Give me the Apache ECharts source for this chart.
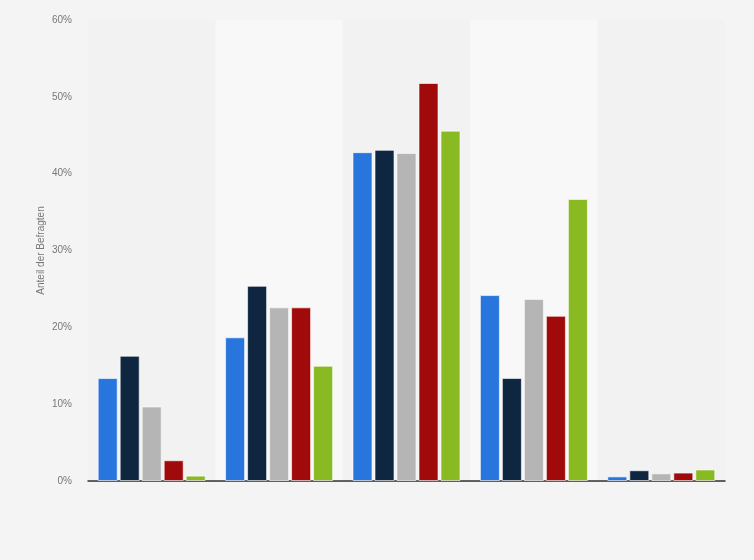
<!DOCTYPE html>
<html>
<head>
<meta charset="utf-8">
<script src="https://cdn.jsdelivr.net/npm/echarts@6/dist/echarts.min.js"></script>
<style>
  html, body { margin: 0; padding: 0; background: #f4f4f4; }
  #chart { width: 754px; height: 560px; }
</style>
</head>
<body>
<div id="chart"></div>
<script>
// categories have no visible labels in the source chart
const categories = ["", " ", "  ", "   ", "    "]
const yTicks = [0, 10, 20, 30, 40, 50, 60]

const seriesA = [13.4, 18.7, 42.8, 24.2, 0.6]
const seriesB = [16.3, 25.4, 43.1, 13.4, 1.4]
const seriesC = [9.7, 22.6, 42.7, 23.7, 1.0]
const seriesD = [2.7, 22.6, 51.8, 21.5, 1.1]
const seriesE = [0.7, 15.0, 45.6, 36.7, 1.5]

const colors = ["#2876dd", "#0f2641", "#b5b5b5", "#a10a0a", "#8aba22"]

const makeSeries = (name, data, color) => ({
  name: name,
  type: "bar",
  data: data,
  barWidth: 20,
  barGap: "10%",
  itemStyle: {
    color: color,
    borderColor: "rgba(255,255,255,0.6)",
    borderWidth: 1,
  },
})

const option = {
  backgroundColor: "#f4f4f4",
  animation: false,
  grid: {
    left: 88,
    right: 29,
    top: 20,
    bottom: 79,
  },
  xAxis: {
    type: "category",
    data: categories,
    axisTick: { show: false },
    axisLabel: { show: false },
    axisLine: { lineStyle: { color: "#333", width: 1.5 } },
    splitArea: {
      show: true,
      areaStyle: { color: ["#f2f2f2", "#f8f8f8"] },
    },
  },
  yAxis: {
    type: "value",
    min: yTicks[0],
    max: yTicks[yTicks.length - 1],
    interval: 10,
    name: "Anteil der Befragten",
    nameLocation: "middle",
    nameGap: 42,
    nameMoveOverlap: false,
    nameTextStyle: {
      color: "#777",
      fontSize: 10,
      fontFamily: "Liberation Sans",
    },
    axisLine: { show: false },
    axisTick: { show: false },
    axisLabel: {
      formatter: "{value}%",
      color: "#777",
      fontSize: 10,
      fontFamily: "Liberation Sans",
      margin: 16,
    },
    splitLine: {
      lineStyle: { color: "#d6d6d6", type: [2, 1] },
    },
  },
  series: [
    makeSeries("A", seriesA, colors[0]),
    makeSeries("B", seriesB, colors[1]),
    makeSeries("C", seriesC, colors[2]),
    makeSeries("D", seriesD, colors[3]),
    makeSeries("E", seriesE, colors[4]),
  ],
}

const chart = echarts.init(document.getElementById("chart"))
chart.setOption(option)
window.addEventListener("resize", () => chart.resize())
</script>
</body>
</html>
